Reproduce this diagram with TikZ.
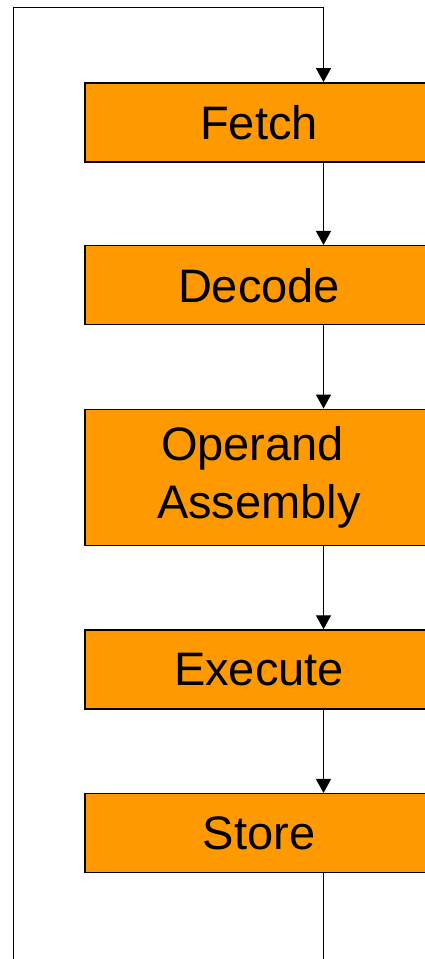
\documentclass[tikz,border=0pt]{standalone}
\usepackage{fontspec}
\setmainfont{Liberation Sans}
\usetikzlibrary{arrows.meta}
\definecolor{stageorange}{HTML}{FF9900}
\begin{document}
\begin{tikzpicture}[x=1pt, y=-1pt, line width=1.5pt,
		every node/.style={draw, fill=stageorange, minimum width=348pt,
			minimum height=79pt, inner sep=0pt, align=center,
			font=\fontsize{47}{58}\selectfont},
		flow/.style={-{Triangle[width=15pt,length=14pt]}, line width=1.4pt}]
		\useasboundingbox (0,0) rectangle (425,959);
		\coordinate (colx) at (323.5,0);
		\coordinate (tl) at (13.5,7.5);
		\coordinate (bl) at (13.5,980);

		\node (Fetch) at (259,122.3) {Fetch};
		\node (Decode) at (259,285.2) {Decode};
		\node[minimum height=136.4pt] (Operand) at (259,477.5) {Operand\kern13pt\\Assembly};
		\node (Execute) at (259,669.5) {Execute};
		\node (Store) at (259,833.2) {Store};

		\draw[flow] (Fetch.south -| colx) -- (Decode.north -| colx);
		\draw[flow] (Decode.south -| colx) -- (Operand.north -| colx);
		\draw[flow] (Operand.south -| colx) -- (Execute.north -| colx);
		\draw[flow] (Execute.south -| colx) -- (Store.north -| colx);
		\draw[flow] (Store.south -| colx) |- (bl) -- (tl) -| (Fetch.north -| colx);
	\end{tikzpicture}
\end{document}
